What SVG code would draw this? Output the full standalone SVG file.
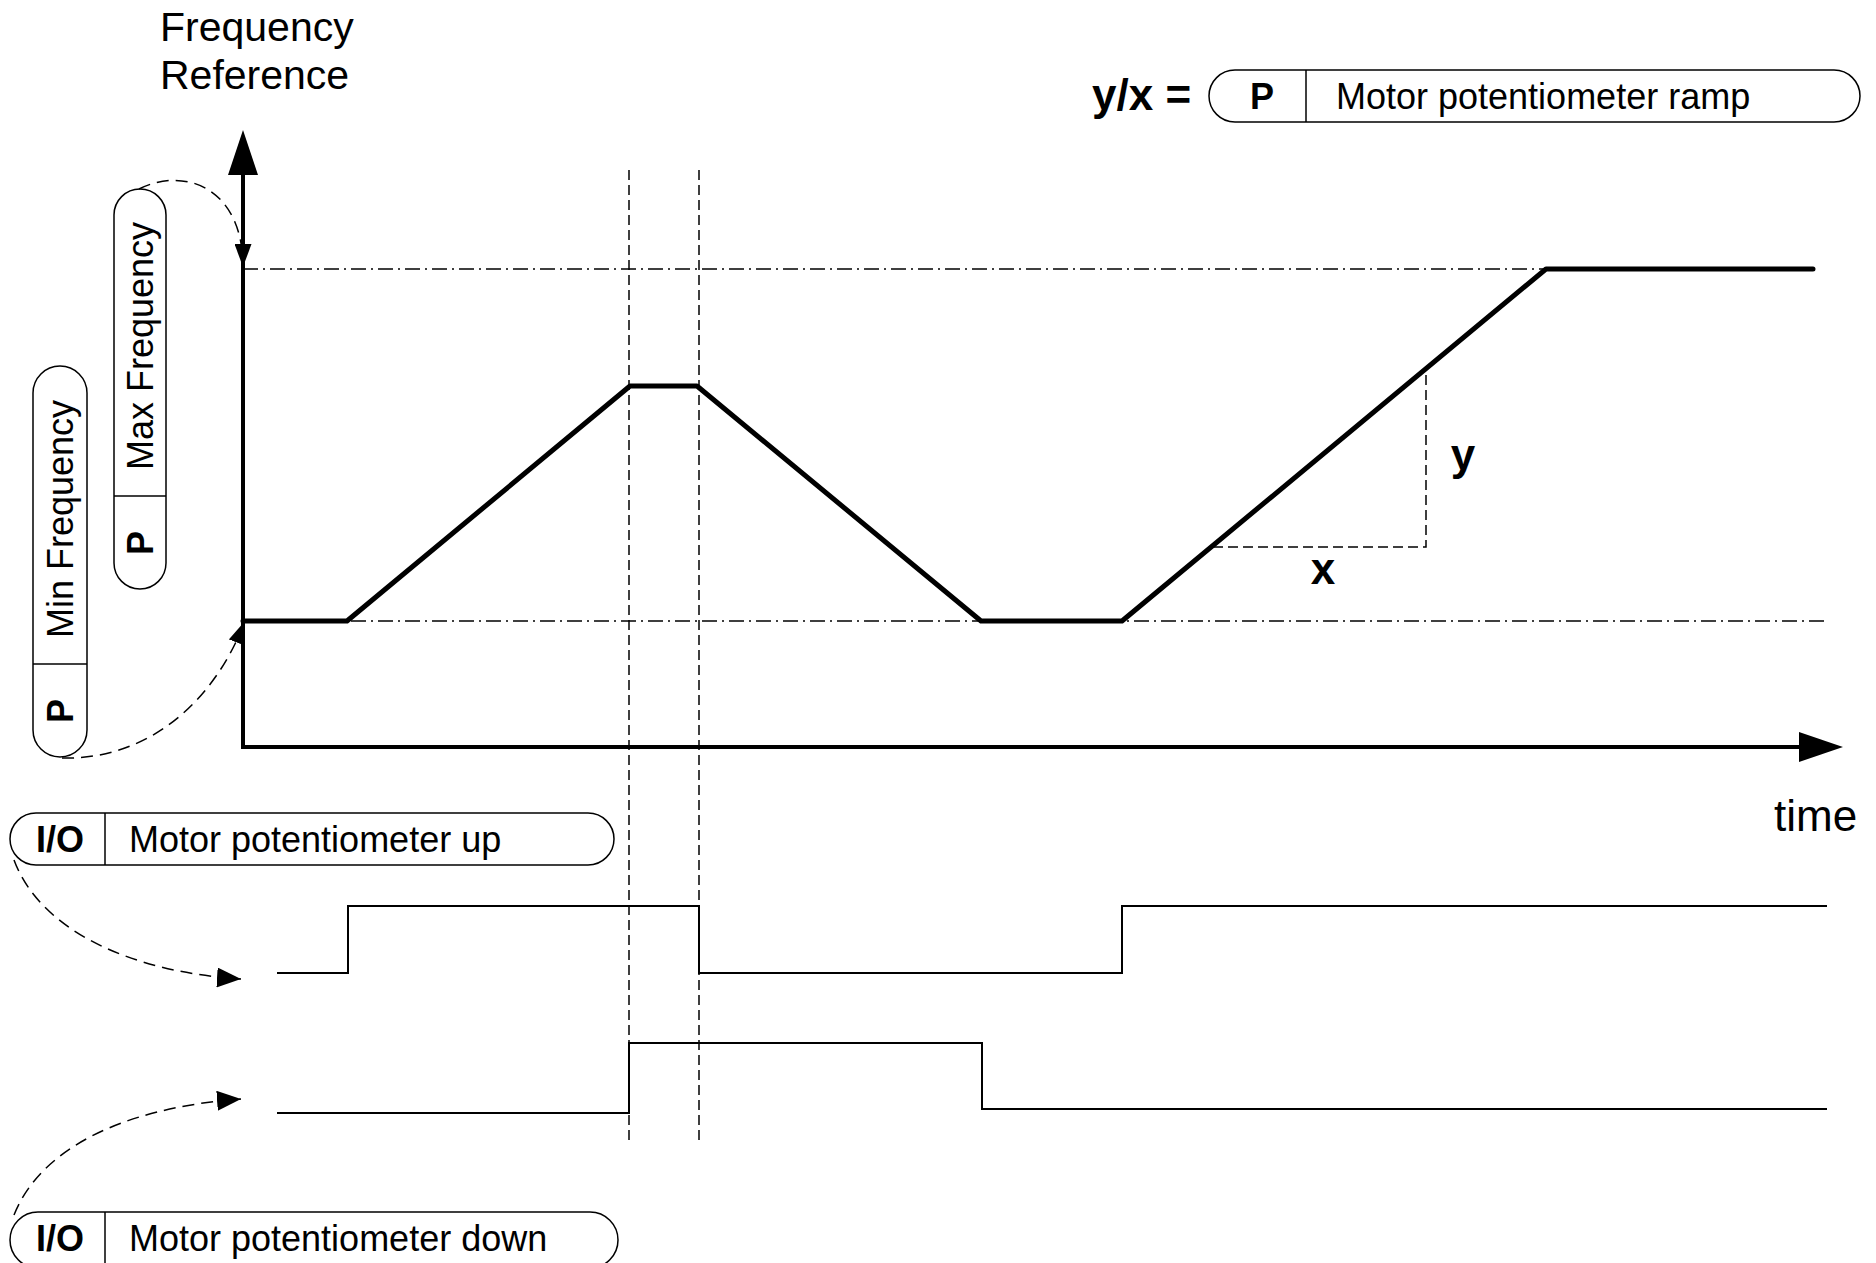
<svg xmlns="http://www.w3.org/2000/svg" width="1876" height="1263" viewBox="0 0 1876 1263">
<style>
text{font-family:"Liberation Sans",Arial,sans-serif;fill:#000}
.lbl{font-size:36px}
.b{font-weight:bold}
.big{font-size:41px}
.pill{fill:#fff;stroke:#000;stroke-width:1.5}
.div{stroke:#000;stroke-width:1.5}
.axis{stroke:#000;stroke-width:4;fill:none}
.curve{stroke:#000;stroke-width:5;fill:none;stroke-linecap:round;stroke-linejoin:round}
.sig{stroke:#000;stroke-width:2;fill:none}
.dd{stroke:#000;stroke-width:1.3;stroke-dasharray:15 5 2 5;fill:none}
.dash{stroke:#000;stroke-width:1.5;stroke-dasharray:10 5;fill:none}
.conn{stroke:#000;stroke-width:1.5;stroke-dasharray:12 7;fill:none}
</style>
<defs>
<marker id="arr" markerUnits="userSpaceOnUse" markerWidth="24" markerHeight="20" refX="24" refY="10" orient="auto">
<path d="M0,0 L24,10 L0,20 z" fill="#000"/>
</marker>
<marker id="arrS" markerUnits="userSpaceOnUse" markerWidth="23" markerHeight="17" refX="23" refY="8.5" orient="auto">
<path d="M0,0 L23,8.5 L0,17 z" fill="#000"/>
</marker>
</defs>

<g id="guides">
<line class="dd" x1="243" y1="269" x2="1546" y2="269"/>
<line class="dd" x1="243" y1="621" x2="1824" y2="621"/>
<line class="dash" x1="629" y1="170" x2="629" y2="1145"/>
<line class="dash" x1="699" y1="170" x2="699" y2="1145"/>
<path class="dash" d="M1213,547 H1426 V370"/>
</g>

<g id="axes">
<line class="axis" x1="243" y1="172" x2="243" y2="747"/>
<polygon points="243,130 228,175 258,175" fill="#000"/>
<line class="axis" x1="241" y1="747" x2="1800" y2="747"/>
<polygon points="1843,747 1799,732 1799,762" fill="#000"/>
<text class="big" x="160" y="41">Frequency</text>
<text class="big" x="160" y="89">Reference</text>
<text x="1774" y="831" style="font-size:44px">time</text>
</g>

<g id="frequency-curve">
<path class="curve" d="M243,621 H347 L630,386 H697 L981,621 H1122 L1546,269 H1813"/>
<text class="b" style="font-size:44px" x="1463" y="470" text-anchor="middle">y</text>
<text class="b" style="font-size:44px" x="1323" y="584" text-anchor="middle">x</text>
</g>

<g id="signal-up">
<path class="sig" d="M277,973 H348 V906 H699 V973 H1122 V906 H1827"/>
</g>
<g id="signal-down">
<path class="sig" d="M277,1113 H629 V1043 H982 V1109 H1827"/>
</g>

<g id="ramp-label">
<text class="b" style="font-size:44px" x="1092" y="110">y/x =</text>
<rect class="pill" x="1209" y="70" width="651" height="52" rx="26"/>
<line class="div" x1="1306" y1="70" x2="1306" y2="122"/>
<text class="lbl b" x="1262" y="109" text-anchor="middle">P</text>
<text class="lbl" x="1336" y="109">Motor potentiometer ramp</text>
</g>

<g id="max-frequency">
<rect class="pill" x="114" y="189" width="52" height="400" rx="26"/>
<line class="div" x1="114" y1="496" x2="166" y2="496"/>
<text class="lbl b" transform="translate(140,543) rotate(-90)" x="0" y="13" text-anchor="middle">P</text>
<text class="lbl" transform="translate(140,346) rotate(-90)" x="0" y="13" text-anchor="middle">Max Frequency</text>
</g>

<g id="min-frequency">
<rect class="pill" x="33" y="366" width="54" height="391" rx="27"/>
<line class="div" x1="33" y1="664" x2="87" y2="664"/>
<text class="lbl b" transform="translate(60,711) rotate(-90)" x="0" y="13" text-anchor="middle">P</text>
<text class="lbl" transform="translate(60,519) rotate(-90)" x="0" y="13" text-anchor="middle">Min Frequency</text>
</g>

<g id="io-up">
<rect class="pill" x="10" y="813" width="604" height="52" rx="26"/>
<line class="div" x1="105" y1="813" x2="105" y2="865"/>
<text class="lbl b" x="60" y="852" text-anchor="middle">I/O</text>
<text class="lbl" x="129" y="852">Motor potentiometer up</text>
</g>

<g id="io-down">
<rect class="pill" x="10" y="1212" width="608" height="56" rx="28"/>
<line class="div" x1="105" y1="1212" x2="105" y2="1268"/>
<text class="lbl b" x="60" y="1251" text-anchor="middle">I/O</text>
<text class="lbl" x="129" y="1251">Motor potentiometer down</text>
</g>

<g id="connectors">
<path class="conn" d="M139,189 C185,166 243,188 243,267" marker-end="url(#arrS)"/>
<path class="conn" d="M62,758 C150,760 215,700 245,621" marker-end="url(#arrS)"/>
<path class="conn" d="M14,860 C40,930 130,972 241,979" marker-end="url(#arr)"/>
<path class="conn" d="M14,1215 C40,1150 120,1108 241,1099" marker-end="url(#arr)"/>
</g>
</svg>
